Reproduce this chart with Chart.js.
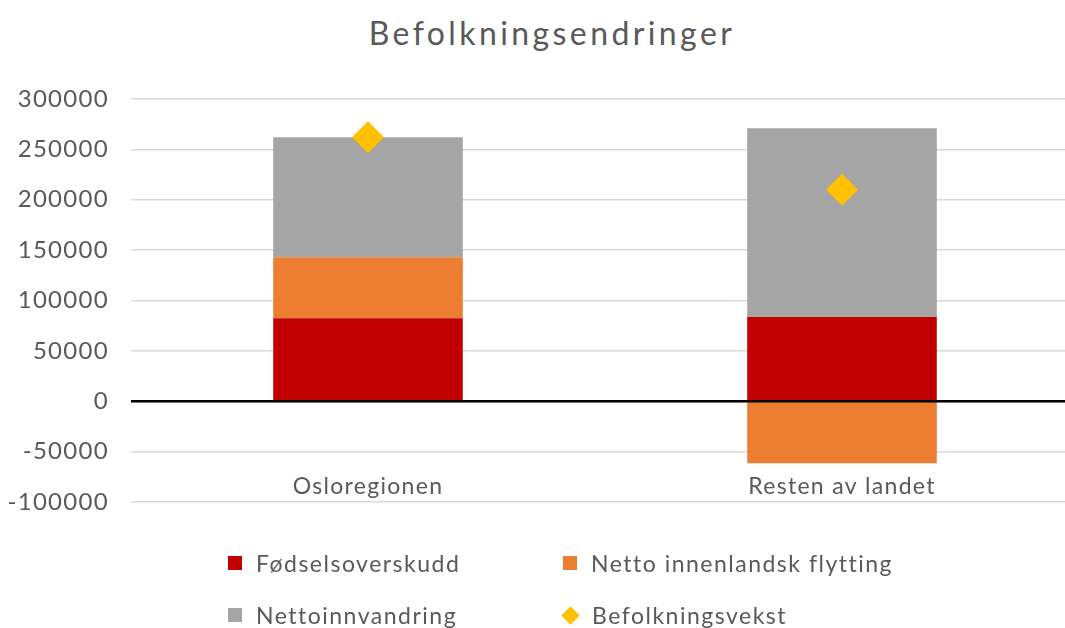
<!DOCTYPE html>
<html>
<head>
<meta charset="utf-8">
<script src="https://cdn.jsdelivr.net/npm/chart.js@4/dist/chart.umd.min.js"></script>
<style>
    body { margin: 0; width: 1065px; height: 628px; overflow: hidden; background: #fff; position: relative; font-family: Lato, sans-serif; }
    #company-canvas { position: absolute; left: 0; top: 0; }
    #title { position: absolute; left: 0; width: 1104px; top: 13px; text-align: center; color: #595959; font-size: 32px; letter-spacing: 3.4px; line-height: 40px; }
    #legend { position: absolute; left: 0; top: 0; margin: 0; padding: 0; list-style: none; }
    #legend li { position: absolute; display: flex; align-items: center; color: #595959; font-size: 23px; letter-spacing: 1.5px; white-space: nowrap; }
    #legend span { display: inline-block; width: 14px; height: 14px; margin-right: 14px; }
    #legend span.diamond { width: 13px; height: 13px; transform: rotate(45deg); margin-left: 1px; margin-right: 15px; }
</style>
</head>
<body>
<div id="title">Befolkningsendringer</div>
<canvas id="company-canvas" width="1079" height="628"></canvas>
<ul id="legend"></ul>
<script>
'use strict';

const categories = ['Osloregionen', 'Resten av landet'];
const fodselsoverskudd = [82500, 83500];
const innenlandskFlytting = [60500, -61500];
const nettoinnvandring = [119000, 187500];
const befolkningsvekst = [262000, 210000];
const yTicks = [-100000, -50000, 0, 50000, 100000, 150000, 200000, 250000, 300000];

const names = ['Fødselsoverskudd', 'Netto innenlandsk flytting', 'Nettoinnvandring', 'Befolkningsvekst'];
const colors = ['#c00000', '#ed7d31', '#a5a5a5', '#ffc000'];
const textColor = '#595959';

// litt luft mellom bokstavene, slik Excel tegner teksten
const spacing = {
    id: 'spacing',
    beforeDraw(chart) {
        chart.ctx.letterSpacing = '1.3px';
    }
};

// nullinjen over stolpene, og kategorinavn inne i plottet
const categoryLabels = {
    id: 'categoryLabels',
    afterDatasetsDraw(chart) {
        let ctx = chart.ctx,
            x = chart.scales.x,
            area = chart.chartArea,
            y0 = chart.scales.y.getPixelForValue(0);
        ctx.save();
        ctx.strokeStyle = '#000';
        ctx.lineWidth = 2.5;
        ctx.beginPath();
        ctx.moveTo(area.left, y0);
        ctx.lineTo(area.right, y0);
        ctx.stroke();
        ctx.fillStyle = textColor;
        ctx.font = '23px Lato';
        ctx.letterSpacing = '1.3px';
        ctx.textAlign = 'center';
        ctx.textBaseline = 'middle';
        categories.forEach((c, i) => ctx.fillText(c, x.getPixelForValue(i), area.bottom - 15));
        ctx.restore();
    }
};

let bar = (i, values) => ({
    type: 'bar',
    label: names[i],
    data: values,
    backgroundColor: colors[i],
    borderWidth: 0,
    stack: 'endring',
    order: 1,
    barPercentage: 1,
    categoryPercentage: 0.4
});

new Chart(document.getElementById('company-canvas'), {
    data: {
        labels: categories,
        datasets: [
            bar(0, fodselsoverskudd),
            bar(1, innenlandskFlytting),
            bar(2, nettoinnvandring),
            {
                type: 'line',
                label: names[3],
                data: befolkningsvekst,
                showLine: false,
                pointStyle: 'rectRot',
                pointRadius: 16,
                pointHoverRadius: 16,
                pointBackgroundColor: colors[3],
                pointBorderWidth: 0,
                stack: 'vekst',
                order: 0
            }
        ]
    },
    options: {
        responsive: false,
        animation: false,
        layout: { autoPadding: false, padding: { left: 0, right: 0, top: 99, bottom: 126 } },
        plugins: {
            legend: { display: false },
            tooltip: { enabled: false }
        },
        scales: {
            x: {
                display: false,
                stacked: true
            },
            y: {
                stacked: true,
                min: yTicks[0],
                max: yTicks[yTicks.length - 1],
                afterBuildTicks: (scale) => { scale.ticks = yTicks.map(v => ({ value: v })); },
                afterFit: (scale) => { scale.width = 131; },
                border: { display: false },
                grid: { color: '#d9d9d9', lineWidth: 1.5, drawTicks: false },
                ticks: {
                    color: textColor,
                    padding: 22,
                    font: { family: 'Lato', size: 24 },
                    callback: (v) => String(v)
                }
            }
        }
    },
    plugins: [spacing, categoryLabels]
});

// Lager legenden i to kolonner, som i originalen
(function createLegend() {
    let cols = [228, 563],
        rows = [563, 615];
    for (let i = 0; i < names.length; i++) {
        let marker = i === 3 ? 'class="diamond" ' : '';
        let li = document.createElement('li');
        li.style.left = cols[i % 2] + 'px';
        li.style.top = (rows[Math.floor(i / 2)] - 15) + 'px';
        li.style.height = '30px';
        li.innerHTML = `<span ${marker}style="background-color: ${colors[i]};"></span>${names[i]}`;
        document.getElementById('legend').appendChild(li);
    }
})();
</script>
</body>
</html>
